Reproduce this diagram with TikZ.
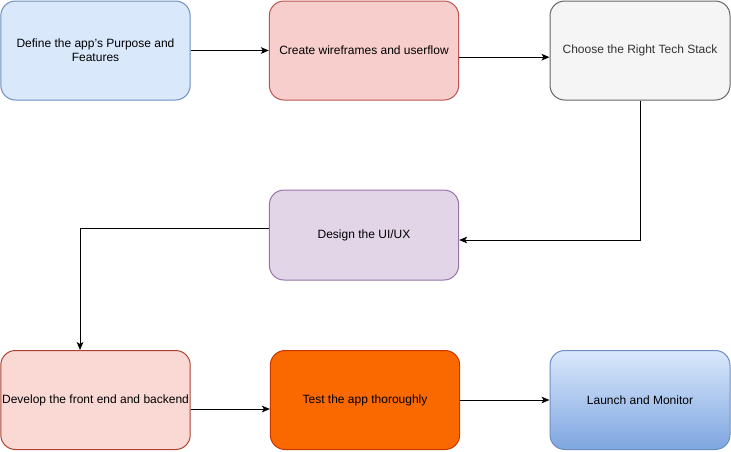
\documentclass[tikz,border=0pt]{standalone}
\usepackage{fontspec}
\setmainfont{Liberation Sans}
\usetikzlibrary{arrows.meta}
\definecolor{b1fill}{HTML}{DAE8FC}\definecolor{b1line}{HTML}{6C8EBF}
\definecolor{b2fill}{HTML}{F8CECC}\definecolor{b2line}{HTML}{B85450}
\definecolor{b3fill}{HTML}{F5F5F5}\definecolor{b3line}{HTML}{666666}\definecolor{b3text}{HTML}{333333}
\definecolor{b4fill}{HTML}{E1D5E7}\definecolor{b4line}{HTML}{9673A6}
\definecolor{b5fill}{HTML}{FAD9D5}\definecolor{b5line}{HTML}{AE4132}
\definecolor{b6fill}{HTML}{FA6800}\definecolor{b6line}{HTML}{C73500}
\definecolor{b7top}{HTML}{DAE8FC}\definecolor{b7bot}{HTML}{7EA6E0}
\tikzset{
  box/.style={rounded corners=11pt, line width=0.75pt, align=center, inner sep=1pt,
    minimum width=142pt, minimum height=74.25pt, font=\fontsize{9pt}{10.5pt}\selectfont},
  narrow/.style={minimum width=135pt},
  conn/.style={line width=0.75pt, -{Stealth[length=6pt,width=5pt,inset=1.5pt]}}
}
\begin{document}
\begin{tikzpicture}[x=0.75pt,y=-0.75pt]
\useasboundingbox (0,0) rectangle (731,451);
\node[box, fill=b1fill, draw=b1line] (b1) at (95.5,50.5) {Define the app's Purpose and\\Features};
\node[box, fill=b2fill, draw=b2line] (b2) at (364,50.5) {Create wireframes and userflow};
\node[box, narrow, fill=b3fill, draw=b3line, text=b3text] (b3) at (640,50.5) {Choose the Right Tech Stack};
\node[box, fill=b4fill, draw=b4line, minimum height=67.5pt] (b4) at (364,235) {Design the UI/UX};
\node[box, fill=b5fill, draw=b5line] (b5) at (95.5,400) {Develop the front end and backend};
\node[box, fill=b6fill, draw=b6line] (b6) at (365,400) {Test the app thoroughly};
\node[box, narrow, top color=b7top, bottom color=b7bot, draw=b1line] (b7) at (640,400) {Launch and Monitor};
\draw[conn] (b1) -- (b2);
\draw[conn] ([yshift=-5pt]b2.east) -- ([yshift=-5pt]b3.west);
\draw[conn] (b3.south) |- ([yshift=-3.75pt]b4.east);
\draw[conn] ([yshift=5.25pt]b4.west) -| ([xshift=-11.6pt]b5.north);
\draw[conn] ([yshift=-6.75pt]b5.east) -- ([yshift=-6.75pt]b6.west);
\draw[conn] (b6) -- (b7);
\end{tikzpicture}
\end{document}
